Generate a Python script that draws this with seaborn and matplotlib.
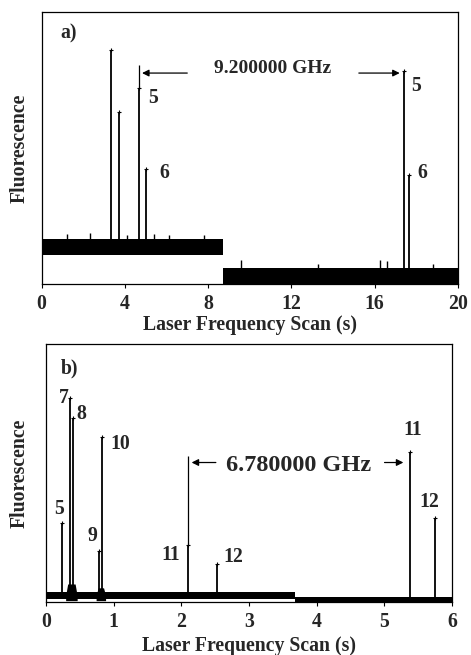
import numpy as np
import pandas as pd
import matplotlib
matplotlib.use("Agg")
import matplotlib.pyplot as plt
import seaborn as sns

# ---- panel a) data (time in s, fluorescence in arb. units 0-100) ----
a_base_x = [0.0, 8.73, 8.73, 20.0]
a_base_lo = [10.2, 10.2, -0.5, -0.5]
a_base_hi = [16.2, 16.2, 5.5, 5.5]
a_peak_x = [3.33, 3.72, 4.69, 5.03, 17.39, 17.67]
a_peak_h = [85.9, 63.0, 71.9, 41.9, 78.2, 39.8]
a_peak_base = [13.0, 13.0, 13.0, 13.0, 3.0, 3.0]
a_spike_x = [1.2, 2.3, 4.1, 5.4, 6.1, 7.8, 9.6, 13.3, 16.27, 16.59, 18.8]
a_spike_h = [18.0, 18.5, 17.5, 18.0, 17.8, 17.5, 8.5, 7.0, 8.5, 8.0, 7.0]
a_spike_base = [14.0, 14.0, 14.0, 14.0, 14.0, 14.0, 4.0, 4.0, 4.0, 4.0, 4.0]
a_labels = ["5", "6", "5", "6"]
a_label_x = [5.36, 5.88, 17.99, 18.27]
a_label_y = [68.2, 40.6, 72.7, 40.4]
a_gap = "9.200000 GHz"
a_xticks = [0, 4, 8, 12, 16, 20]

# ---- panel b) data ----
b_base_x = [0.0, 3.68, 3.68, 6.0]
b_base_lo = [0.6, 0.6, -0.6, -0.6]
b_base_hi = [3.4, 3.4, 1.4, 1.4]
b_hump_x = [0.29, 0.32, 0.43, 0.46, 0.74, 0.77, 0.85, 0.88]
b_hump_h = [2.0, 6.5, 6.5, 2.0, 2.0, 5.0, 5.0, 2.0]
b_peak_x = [0.236, 0.355, 0.404, 0.78, 0.832, 2.10, 2.52, 5.37, 5.74]
b_peak_h = [30.2, 79.0, 71.2, 19.3, 63.8, 21.7, 14.3, 57.9, 32.0]
b_peak_base = [2.0, 2.0, 2.0, 2.0, 2.0, 2.0, 2.0, 0.5, 0.5]
b_labels = ["5", "7", "8", "9", "10", "11", "12", "11", "12"]
b_label_x = [0.197, 0.26, 0.527, 0.684, 1.10, 1.84, 2.77, 5.41, 5.66]
b_label_y = [35.7, 79.0, 72.5, 25.3, 60.9, 17.6, 16.9, 66.3, 38.5]
b_gap = "6.780000 GHz"
b_xticks = [0, 1, 2, 3, 4, 5, 6]

FS = 14.2

sns.set_style("white")
plt.rcParams["font.family"] = ["Liberation Serif", "DejaVu Serif"]
plt.rcParams["font.weight"] = "bold"

fig = plt.figure(figsize=(4.71, 6.55), dpi=100)
ax_a = fig.add_axes([0.0885, 0.566, 0.8835, 0.416])
ax_b = fig.add_axes([0.0977, 0.081, 0.8623, 0.394])


def draw_panel(ax, base_x, base_lo, base_hi, peak_x, peak_h, peak_base, xmax, ticks, lpad, ypad):
  ax.fill_between(base_x, base_lo, base_hi, color="black", lw=0)
  ax.vlines(peak_x, peak_base, peak_h, color="black", lw=1.3)
  sns.scatterplot(x=peak_x, y=peak_h, ax=ax, color="black", marker="+", s=12, linewidth=0.8)
  ax.set_xlim(0, xmax)
  ax.set_ylim(-0.5, 100)
  ax.set_xticks(ticks)
  ax.set_xticklabels([str(t) for t in ticks], fontsize=FS, fontweight="bold")
  ax.set_yticks([])
  ax.tick_params(axis="x", direction="out", length=3, width=0.8, pad=4, bottom=True, color="black")
  for s in ax.spines.values():
    s.set_color("black")
    s.set_linewidth(0.9)
  ax.set_xlabel("Laser Frequency Scan (s)", fontsize=FS, fontweight="bold", labelpad=lpad)
  ax.set_ylabel("Fluorescence", fontsize=FS, fontweight="bold", labelpad=ypad)


# panel a
draw_panel(ax_a, a_base_x, a_base_lo, a_base_hi, a_peak_x, a_peak_h, a_peak_base, 20, a_xticks, 1, 9)
ax_a.vlines(a_spike_x, a_spike_base, a_spike_h, color="black", lw=1.0)
ax_a.vlines(a_peak_x[2], a_peak_h[2], 80.4, color="black", lw=0.9)
ax_a.annotate("", xy=(a_peak_x[2], 77.4), xytext=(7.13, 77.4),
              arrowprops=dict(arrowstyle="-|>", color="black", lw=0.9, mutation_scale=10))
ax_a.annotate("", xy=(a_peak_x[4] - 0.05, 77.4), xytext=(15.11, 77.4),
              arrowprops=dict(arrowstyle="-|>", color="black", lw=0.9, mutation_scale=10))
ax_a.text(11.1, 79.2, a_gap, ha="center", va="center", fontsize=14, fontweight="bold")
ax_a.text(1.28, 92.1, "a)", ha="center", va="center", fontsize=FS, fontweight="bold")
for t, x, y in zip(a_labels, a_label_x, a_label_y):
  ax_a.text(x, y, t, ha="center", va="center", fontsize=FS, fontweight="bold")

# panel b
draw_panel(ax_b, b_base_x, b_base_lo, b_base_hi, b_peak_x, b_peak_h, b_peak_base, 6, b_xticks, 3, 12)
ax_b.fill_between(b_hump_x[:4], 0, b_hump_h[:4], color="black", lw=0)
ax_b.fill_between(b_hump_x[4:], 0, b_hump_h[4:], color="black", lw=0)
ax_b.vlines(b_peak_x[5], b_peak_h[5], 56.3, color="black", lw=0.9)
ax_b.annotate("", xy=(b_peak_x[5] + 0.01, 53.8), xytext=(2.55, 53.8),
              arrowprops=dict(arrowstyle="-|>", color="black", lw=0.9, mutation_scale=10))
ax_b.annotate("", xy=(b_peak_x[7] - 0.05, 53.8), xytext=(4.96, 53.8),
              arrowprops=dict(arrowstyle="-|>", color="black", lw=0.9, mutation_scale=10))
ax_b.text(3.73, 52.8, b_gap, ha="center", va="center", fontsize=17.5, fontweight="bold")
ax_b.text(0.355, 90.6, "b)", ha="center", va="center", fontsize=FS, fontweight="bold")
for t, x, y in zip(b_labels, b_label_x, b_label_y):
  ax_b.text(x, y, t, ha="center", va="center", fontsize=FS, fontweight="bold")

fig.savefig("out.png", dpi=100)
